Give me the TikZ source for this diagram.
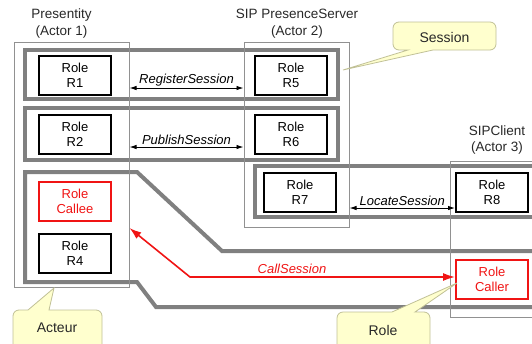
\documentclass[tikz,border=0pt]{standalone}
\usepackage{fontspec}
\setmainfont{Liberation Sans}
\usetikzlibrary{arrows.meta,calc}
\definecolor{sess}{RGB}{128,128,128}
\definecolor{actline}{RGB}{145,145,145}
\definecolor{callfill}{RGB}{255,255,206}
\definecolor{callborder}{RGB}{192,192,150}
\definecolor{titletext}{RGB}{40,40,40}
\definecolor{rred}{RGB}{240,20,20}
\begin{document}
\begin{tikzpicture}[x=1pt,y=-1pt,
  session/.style={draw=sess,line width=4pt},
  actor/.style={draw=actline,line width=1pt,inner sep=0pt},
  rolebox/.style={draw=black,line width=2pt,minimum width=72pt,minimum height=39pt,inner sep=0pt,align=center,font=\fontsize{13}{15}\selectfont},
  redrole/.style={rolebox,draw=rred,text=rred},
  msg/.style={draw=black,line width=0.9pt,{Latex[length=7pt,width=4.5pt]}-{Latex[length=7pt,width=4.5pt]}},
  redmsg/.style={draw=rred,line width=1.6pt,{Latex[length=12pt,width=8pt]}-{Latex[length=12pt,width=8pt]}},
  msglabel/.style={font=\fontsize{13}{15}\selectfont\itshape,inner sep=1.5pt},
  title/.style={align=center,text=titletext,font=\fontsize{13.5}{16.5}\selectfont},
  callout/.style={draw=callborder,fill=callfill,line width=0.8pt},
  callouttext/.style={font=\fontsize{14}{16}\selectfont,text=titletext}
]
\useasboundingbox (0,0) rectangle (532,343);
\clip (0,0) rectangle (532,343);

% sessions
\draw[session] (25,50) rectangle (338,98.5);
\draw[session] (25,107.5) rectangle (338,160);
\draw[session] (545,251) -- (222,251) -- (137,172) -- (25,172) -- (25,282) -- (137,282) -- (156,307) -- (545,307);
\draw[session] (545,166) -- (255,166) -- (255,216.5) -- (545,216.5);

% actors
\node[actor,minimum width=115pt,minimum height=245pt] (a1) at (71.5,164.5) {};
\node[actor,minimum width=105pt,minimum height=185pt] (a2) at (296.5,134.5) {};
\node[actor,minimum width=110pt,minimum height=156pt] (a3) at (505,239) {};

\node[title] (t1) at (61.5,23.5) {Presentity\\(Actor 1)};
\node[title] (t2) at (297,23.5) {SIP PresenceServer\\(Actor 2)};
\node[title] (t3) at (497,140) {SIPClient\\(Actor 3)};

% roles
\node[rolebox] (r1) at (75,75.5) {Role\\R1};
\node[rolebox] (r2) at (75,134.5) {Role\\R2};
\node[redrole] (callee) at (75,201.5) {Role\\Callee};
\node[rolebox] (r4) at (75,253.5) {Role\\R4};
\node[rolebox] (r5) at (291,75.5) {Role\\R5};
\node[rolebox] (r6) at (291,134.5) {Role\\R6};
\node[rolebox] (r7) at (300,192.5) {Role\\R7};
\node[rolebox] (r8) at (492,192.5) {Role\\R8};
\node[redrole] (caller) at (492,279) {Role\\Caller};

% messages
\coordinate (m1) at ($(r1.east)+(0,12.5)$);
\coordinate (m2) at ($(r2.east)+(0,12.5)$);
\coordinate (m3) at ($(r7.east)+(0,15.5)$);
\draw[msg] (a1.east |- m1) -- node[msglabel,above] {RegisterSession} (a2.west |- m1);
\draw[msg] (a1.east |- m2) -- node[msglabel,above] {PublishSession} (a2.west |- m2);
\draw[msg] (a2.east |- m3) -- node[msglabel,above] {LocateSession} (r8.west |- m3);

\coordinate (cs) at ($(caller.west)+(0,-2)$);
\coordinate (cbend) at (190,277);
\coordinate (h228) at (0,228);
\coordinate (ctip) at (a1.east |- h228);
\draw[redmsg] (cs) -- node[pos=0.615,above,msglabel,text=rred,inner sep=3pt] {CallSession} (cbend) -- (ctip);

% callouts
\draw[callout] (408,50) -- (343,70) -- (433,50) -- (490,50) arc[start angle=90,end angle=0,radius=6]
  -- (496,28) arc[start angle=0,end angle=-90,radius=6]
  -- (399,22) arc[start angle=-90,end angle=-180,radius=6]
  -- (393,44) arc[start angle=180,end angle=90,radius=6] -- cycle;
\node[callouttext] (sessionlbl) at (444.5,37) {Session};

\draw[callout] (49,310) -- (54,288) -- (28,310) -- (19,310) arc[start angle=-90,end angle=-180,radius=6]
  -- (13,350) -- (102,350) -- (102,316) arc[start angle=0,end angle=-90,radius=6] -- cycle;
\node[callouttext] (acteurlbl) at (57,328) {Acteur};

\draw[callout] (415,312) -- (457,283) -- (392,312) -- (343,312) arc[start angle=-90,end angle=-180,radius=6]
  -- (337,350) -- (430,350) -- (430,318) arc[start angle=0,end angle=-90,radius=6] -- cycle;
\node[callouttext] (rolelbl) at (383,330) {Role};
\end{tikzpicture}
\end{document}
